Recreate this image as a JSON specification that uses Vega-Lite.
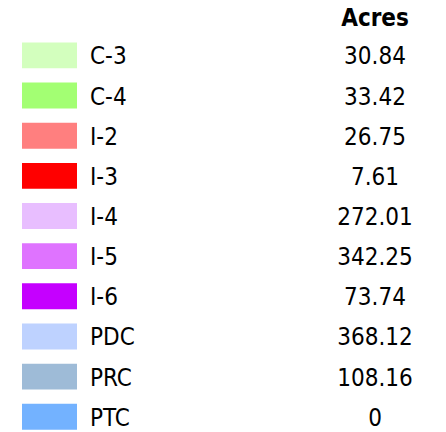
{
  "$schema": "https://vega.github.io/schema/vega-lite/v6.json",
  "width": 446,
  "height": 432,
  "autosize": "none",
  "padding": 0,
  "background": "white",
  "config": {"view": {"stroke": null}},
  "data": {
    "values": [
      {"zone": "C-3", "acres": 30.84},
      {"zone": "C-4", "acres": 33.42},
      {"zone": "I-2", "acres": 26.75},
      {"zone": "I-3", "acres": 7.61},
      {"zone": "I-4", "acres": 272.01},
      {"zone": "I-5", "acres": 342.25},
      {"zone": "I-6", "acres": 73.74},
      {"zone": "PDC", "acres": 368.12},
      {"zone": "PRC", "acres": 108.16},
      {"zone": "PTC", "acres": 0}
    ]
  },
  "encoding": {
    "y": {
      "field": "zone",
      "type": "nominal",
      "sort": null,
      "scale": {
        "domain": ["Acres", "C-3", "C-4", "I-2", "I-3", "I-4", "I-5", "I-6", "PDC", "PRC", "PTC"],
        "paddingInner": 0.355,
        "paddingOuter": 0.056
      },
      "axis": null
    }
  },
  "layer": [
    {
      "mark": {"type": "bar"},
      "encoding": {
        "x": {"value": 22},
        "x2": {"value": 77},
        "color": {
          "field": "zone",
          "type": "nominal",
          "legend": null,
          "scale": {
            "domain": ["C-3", "C-4", "I-2", "I-3", "I-4", "I-5", "I-6", "PDC", "PRC", "PTC"],
            "range": ["#D3FFBE", "#A3FF73", "#FF7F7F", "#FF0000", "#E8BEFF", "#DF73FF", "#C500FF", "#BED2FF", "#9EBBD7", "#73B2FF"]
          }
        }
      }
    },
    {
      "mark": {"type": "text", "align": "left", "baseline": "middle", "dy": 2, "font": "DejaVu Sans Condensed, DejaVu Sans", "fontSize": 24, "color": "#000000"},
      "encoding": {
        "x": {"value": 90},
        "text": {"field": "zone", "type": "nominal"}
      }
    },
    {
      "mark": {"type": "text", "align": "center", "baseline": "middle", "dy": 2, "font": "DejaVu Sans Condensed, DejaVu Sans", "fontSize": 24, "color": "#000000"},
      "encoding": {
        "x": {"value": 375},
        "text": {"field": "acres", "type": "nominal"}
      }
    },
    {
      "data": {"values": [{"zone": "Acres"}]},
      "mark": {"type": "text", "align": "center", "baseline": "middle", "dy": 4, "font": "DejaVu Sans Condensed, DejaVu Sans", "fontSize": 24, "fontWeight": "bold", "color": "#000000"},
      "encoding": {
        "x": {"value": 375},
        "text": {"field": "zone", "type": "nominal"}
      }
    }
  ]
}
